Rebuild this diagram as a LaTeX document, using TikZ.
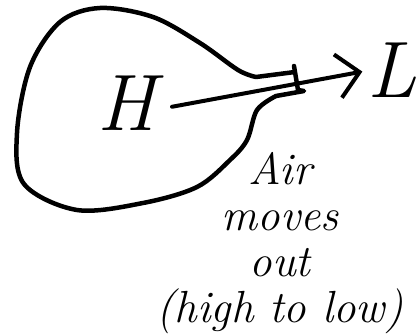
\documentclass[tikz,border=0pt]{standalone}
\usetikzlibrary{arrows.meta}

\tikzset{
	blob/.style={line width=4.5pt, line join=round, line cap=round},
	flow/.style={line width=4pt, line cap=round, -{Straight Barb[length=22pt, width=44pt, line width=4pt]}},
	big/.style={font=\fontsize{80}{80}\selectfont\itshape, inner sep=0pt},
	note/.style={font=\fontsize{45}{46}\selectfont\itshape, align=center, inner sep=0pt}
}

\begin{document}
\begin{tikzpicture}[x=1pt, y=-1pt]
			\useasboundingbox (0,0) rectangle (420,334);
			% the high-pressure region
			\draw[blob] plot[smooth, tension=.55] coordinates {(276,96) (257,110) (247,140) (230,160) (197,187) (143,203) (77,210) (24,184) (17,133) (30,67) (60,22) (100,8) (153,17) (200,43) (238,70) (256,77)}
				-- (295,72) -- (294,66) -- (298,90) -- (304,91) -- cycle;
			\node[big, anchor=base] (H) at (127,131) {H};
			\node[big, anchor=base] (L) at (392,98) {L};
			\draw[flow, shorten <=16pt, shorten >=5pt] ([yshift=-6pt]H.east) -- (L.west);
			\node[note, anchor=north] (note) at (280,152) {Air\\moves\\out\\(high to low)};
		\end{tikzpicture}
\end{document}
